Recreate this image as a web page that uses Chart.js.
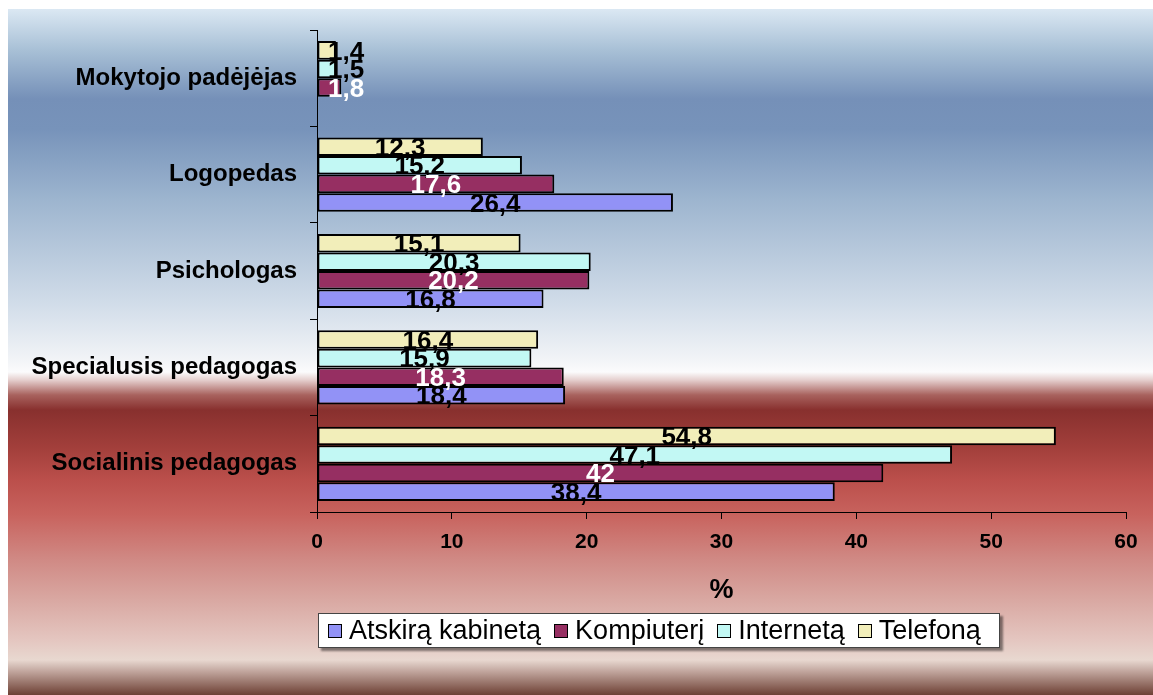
<!DOCTYPE html>
<html>
<head>
<meta charset="utf-8">
<script src="https://cdn.jsdelivr.net/npm/chart.js@4.4.1/dist/chart.umd.min.js"></script>
<style>
  body { margin: 0; background: #fff; }
  #panel {
    position: absolute; left: 8px; top: 9px; width: 1145px; height: 686px;
    background: linear-gradient(to bottom,
      #dbe8f3 0px, #a8c0d6 41px, #7590b8 90px, #7793ba 120px, #9db5cf 191px,
      #cfdbe8 291px, #f2f4f7 351px, #fbfbfc 363px, #e5cfce 371px, #a8625e 386px,
      #88302e 401px, #a4403c 441px, #bb4f4b 471px, #c8635e 506px, #d08a85 551px,
      #d9a8a2 591px, #e4c6c0 631px, #e8d8d0 651px, #bfa39b 663px, #6d4034 686px);
  }
  #wrap { position: absolute; left: 0; top: 0; width: 1153px; height: 695px; }
  #legend {
    position: absolute; left: 318px; top: 613px; width: 682px; height: 35px;
    background: #fff; border: 1px solid #444;
    box-shadow: 3px 3px 2px rgba(0,0,0,0.45);
    font-family: 'Liberation Sans', Arial, sans-serif; font-size: 27px; color: #000;
    display: flex; align-items: center; padding-left: 9px; box-sizing: border-box;
  }
  #legend .item { display: flex; align-items: center; margin-right: 13px; white-space: nowrap; }
  #legend .sw { width: 12px; height: 12px; border: 1.5px solid #000; margin-right: 7px; }
</style>
</head>
<body>
<div id="panel"></div>
<div id="wrap"><canvas id="chart" width="1153" height="695"></canvas></div>
<div id="legend"></div>
<script>
// categories top to bottom
const categories = ['Mokytojo padėjėjas', 'Logopedas', 'Psichologas', 'Specialusis pedagogas', 'Socialinis pedagogas'];
const seriesNames = ['Atskirą kabinetą', 'Kompiuterį', 'Internetą', 'Telefoną'];
const atskiras = [null, 26.4, 16.8, 18.4, 38.4];
const kompiuteris = [1.8, 17.6, 20.2, 18.3, 42];
const internetas = [1.5, 15.2, 20.3, 15.9, 47.1];
const telefonas = [1.4, 12.3, 15.1, 16.4, 54.8];
const xTicks = [0, 10, 20, 30, 40, 50, 60];

const colors = ['#9292f6', '#962f62', '#c2f8f4', '#f2eeba'];
const labelColors = ['#000', '#fff', '#000', '#000'];
const seriesData = [atskiras, kompiuteris, internetas, telefonas];

const FONT = "'Liberation Sans', Arial, sans-serif";

// value labels centred on each bar
const valueLabels = {
  id: 'valueLabels',
  afterDatasetsDraw(chart) {
    const ctx = chart.ctx;
    const left = chart.chartArea.left;
    ctx.save();
    ctx.font = 'bold 26px ' + FONT;
    ctx.textAlign = 'center';
    ctx.textBaseline = 'middle';
    chart.data.datasets.forEach((ds, i) => {
      const meta = chart.getDatasetMeta(i);
      meta.data.forEach((bar, j) => {
        const v = ds.data[j];
        if (v === null || v === undefined) return;
        const text = String(v).replace('.', ',');
        const w = ctx.measureText(text).width;
        let x = (bar.x + bar.base) / 2;
        x = Math.max(x, left + w / 2 + 11);
        ctx.fillStyle = ds.labelColor;
        ctx.fillText(text, x, bar.y + 2);
      });
    });
    ctx.restore();
  }
};

// datasets drawn top-down inside each group: Telefoną first
const order = [3, 2, 1, 0];

new Chart(document.getElementById('chart'), {
  type: 'bar',
  data: {
    labels: categories,
    datasets: order.map(i => ({
      label: seriesNames[i],
      data: seriesData[i],
      labelColor: labelColors[i],
      backgroundColor: colors[i],
      borderColor: '#000',
      borderWidth: 2,
      borderSkipped: false,
      barPercentage: 1.0,
      categoryPercentage: 0.77
    }))
  },
  options: {
    indexAxis: 'y',
    responsive: false,
    animation: false,
    layout: { padding: { left: 0, top: 30, right: 27, bottom: 0 } },
    plugins: { legend: { display: false }, tooltip: { enabled: false } },
    scales: {
      x: {
        min: 0, max: 60,
        afterBuildTicks: (s) => { s.ticks = xTicks.map(v => ({ value: v })); },
        afterFit: (s) => { s.height = 183; },
        grid: { drawOnChartArea: false, color: '#000', tickLength: 7, tickWidth: 1 },
        border: { color: '#000', width: 1 },
        ticks: { color: '#000', padding: 11, font: { family: FONT, size: 21, weight: 'bold' } },
        title: {
          display: true, text: '%', color: '#000',
          font: { family: FONT, size: 27, weight: 'bold' },
          padding: { top: 0, bottom: 88 }
        }
      },
      y: {
        afterFit: (s) => { s.width = 317; },
        grid: { drawOnChartArea: false, offset: true, color: '#000', tickLength: 7, tickWidth: 1 },
        border: { color: '#000', width: 1 },
        ticks: { color: '#000', padding: 13, font: { family: FONT, size: 24, weight: 'bold' } }
      }
    }
  },
  plugins: [valueLabels]
});

// html legend in the original order
const legend = document.getElementById('legend');
seriesNames.forEach((name, i) => {
  const item = document.createElement('div');
  item.className = 'item';
  item.innerHTML = '<div class="sw" style="background:' + colors[i] + '"></div><span>' + name + '</span>';
  legend.appendChild(item);
});
</script>
</body>
</html>
